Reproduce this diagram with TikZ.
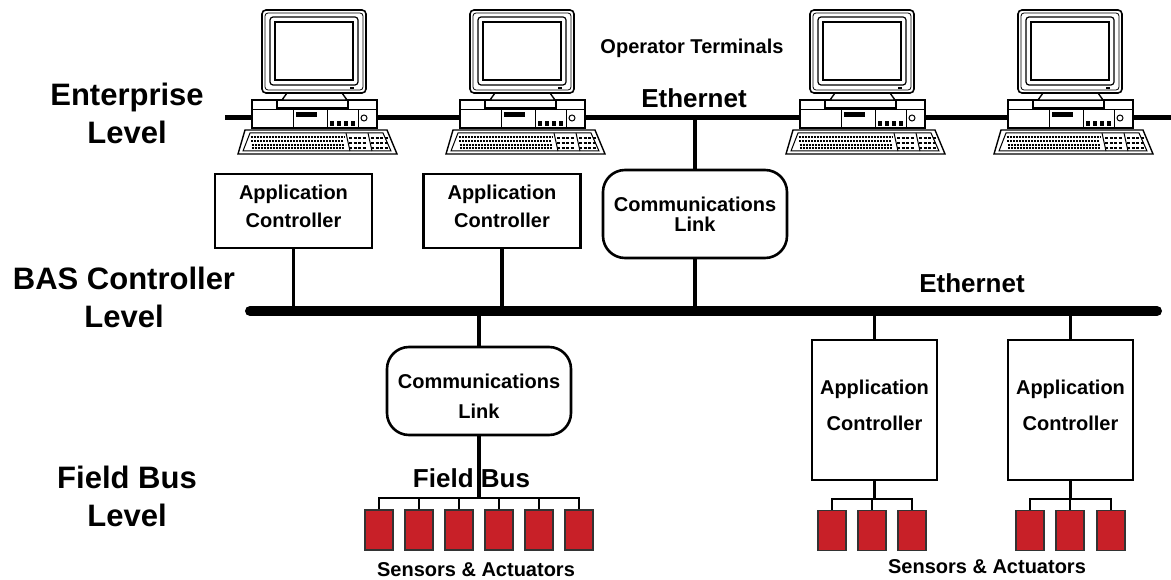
\documentclass[tikz,border=0pt]{standalone}
\usepackage{fontspec}
\setmainfont{Liberation Sans}
\usepackage{tikz}
\usetikzlibrary{positioning}

\definecolor{sensred}{RGB}{200,32,40}

\tikzset{
  lvl/.style={align=center, font=\fontsize{31}{38}\selectfont\bfseries},
  lbl/.style={font=\fontsize{20}{24}\selectfont\bfseries, inner sep=0pt},
  biglbl/.style={font=\fontsize{26}{30}\selectfont\bfseries, inner sep=0pt},
  ctrl/.style={draw, line width=2.6pt, align=center, inner sep=0pt},
  commlink/.style={ctrl, rounded corners=22pt, minimum width=184pt, minimum height=88pt},
  sensor/.style={draw=black!80, fill=sensred, line width=1.2pt, minimum width=28pt, minimum height=40pt, inner sep=0pt},
  wire/.style={line width=3.4pt},
  stub/.style={line width=2.4pt},
  bus/.style={line width=10pt, line cap=round},
  terminal/.pic={
    % keyboard
    \draw[line width=1.4pt, fill=white] (-69,130) -- (73,130) -- (83,154) -- (-76,154) -- cycle;
    \draw[line width=1pt] (-64,133) -- (69,133) -- (77,151) -- (-71,151) -- cycle;
    \foreach \r in {137,141,145,148}
      \draw[line width=1.6pt, dash pattern=on 2pt off 1pt] (-64+0.1*\r-13,\r) -- (30,\r);
    \draw[line width=1pt] (32,133) -- (36,151) (54,133) -- (58,151);
    \foreach \r in {138,143,148}
      \draw[line width=1.6pt, dash pattern=on 3pt off 1.5pt] (35,\r) -- (53,\r) (57,\r) -- (74,\r);
    % base unit
    \draw[line width=1.4pt, fill=white] (-62,100) rectangle (63,128);
    \draw[line width=1pt] (-62,110) -- (63,110);
    \draw[line width=1pt] (-21,110) -- (-21,128) (13,110) -- (13,128) (44,110) -- (44,128);
    \draw[line width=1pt, fill=black] (-18,113) rectangle (2,117);
    \foreach \k in {16,23,30,37}
      \fill (\k,121) rectangle (\k+4,126);
    \draw[line width=1pt] (50,118) circle (3);
    % stand
    \draw[line width=1.4pt, fill=white] (-37,100) rectangle (34,108);
    \draw[line width=1.4pt, fill=white] (-27,93) -- (28,93) -- (33,100) -- (-32,100) -- cycle;
    % monitor
    \draw[line width=1.6pt, fill=white, rounded corners=4pt] (-52,10) rectangle (52,93);
    \draw[line width=0.8pt, rounded corners=3pt] (-49,13) rectangle (49,90);
    \draw[line width=1.2pt, rounded corners=3pt] (-44,17) rectangle (44,85);
    \draw[line width=1.2pt] (-39,22) rectangle (39,80);
    \fill (36,87) rectangle (40,89);
  }
}

\begin{document}
\begin{tikzpicture}[x=1pt, y=-1pt]
\useasboundingbox (0,0) rectangle (1171,580);

% level labels
\node[lvl] (lvl_ent) at (127,113) {Enterprise\\Level};
\node[lvl] (lvl_bas) at (124,297) {BAS Controller\\Level};
\node[lvl] (lvl_fb) at (127,496) {Field Bus\\Level};

% enterprise ethernet and operator terminals
\coordinate (eth_w) at (225,118);
\coordinate (eth_e) at (1171,118);
\draw[line width=5pt] (eth_w) -- (eth_e);
\foreach \x/\n in {314/t1,522/t2,862/t3,1070/t4}
  \pic (\n) at (\x,0) {terminal};
\node[lbl] (opterm) at (692,48) {Operator Terminals};
\node[biglbl] (eth_top) at (694,98) {Ethernet};

% controller level
\node[ctrl, minimum width=157pt, minimum height=74pt, text depth=10pt, font=\fontsize{20}{28}\selectfont\bfseries] (ac_1) at (293.5,211) {Application\\Controller};
\node[ctrl, minimum width=157pt, minimum height=74pt, text depth=10pt, font=\fontsize{20}{28}\selectfont\bfseries] (ac_2) at (502,211) {Application\\Controller};
\node[commlink, font=\fontsize{20}{20}\selectfont\bfseries] (link_1) at (695,214) {Communications\\Link};

\coordinate (bas_w) at (250,311);
\coordinate (bas_e) at (1157,311);
\draw[bus] (bas_w) -- (bas_e);
\node[biglbl] (eth_bas) at (972,283) {Ethernet};

\draw[wire] (link_1.north) -- (link_1.north |- eth_w);
\draw[wire] (link_1.south) -- (link_1.south |- bas_w);
\draw[wire] (ac_1.south) -- (ac_1.south |- bas_w);
\draw[wire] (ac_2.south) -- (ac_2.south |- bas_w);

% field bus level
\node[commlink, text height=54.5pt, font=\fontsize{20}{30}\selectfont\bfseries] (link_2) at (479,391) {Communications\\Link};
\node[ctrl, minimum width=125pt, minimum height=140pt, text depth=10pt, font=\fontsize{20}{36}\selectfont\bfseries] (ac_3) at (874.5,410) {Application\\Controller};
\node[ctrl, minimum width=125pt, minimum height=140pt, text depth=10pt, font=\fontsize{20}{36}\selectfont\bfseries] (ac_4) at (1070.5,410) {Application\\Controller};

\draw[wire] (link_2.north) -- (link_2.north |- bas_w);
\draw[wire] (ac_3.north) -- (ac_3.north |- bas_w);
\draw[wire] (ac_4.north) -- (ac_4.north |- bas_w);

% sensors and actuators
\foreach \i in {1,...,6}
  \node[sensor] (s1_\i) at (339+40*\i,530) {};
\foreach \x [count=\i] in {832,872,912}
  \node[sensor] (s2_\i) at (\x,530.5) {};
\foreach \x [count=\i] in {1030,1070,1111}
  \node[sensor] (s3_\i) at (\x,530.5) {};

\coordinate (fb_1) at (479,498);
\coordinate (fb_2) at (874.5,499);
\coordinate (fb_3) at (1070.5,499);

\node[biglbl] (fieldbus) at (471.5,478) {Field Bus};
\draw[wire] (link_2.south) -- (fb_1);
\draw[stub] (s1_1.north) |- (fb_1) -| (s1_6.north);
\foreach \i in {2,...,5}
  \draw[stub] (s1_\i.north) -- (s1_\i.north |- fb_1);

\draw[stub] (ac_3.south) -- (fb_2);
\draw[stub] (s2_1.north) |- (fb_2) -| (s2_3.north);
\draw[stub] (s2_2.north) -- (s2_2.north |- fb_2);

\draw[stub] (ac_4.south) -- (fb_3);
\draw[stub] (s3_1.north) |- (fb_3) -| (s3_3.north);
\draw[stub] (s3_2.north) -- (s3_2.north |- fb_3);

\node[lbl] (sa_1) at (476,570) {Sensors \& Actuators};
\node[lbl] (sa_2) at (987,567) {Sensors \& Actuators};
\end{tikzpicture}
\end{document}
